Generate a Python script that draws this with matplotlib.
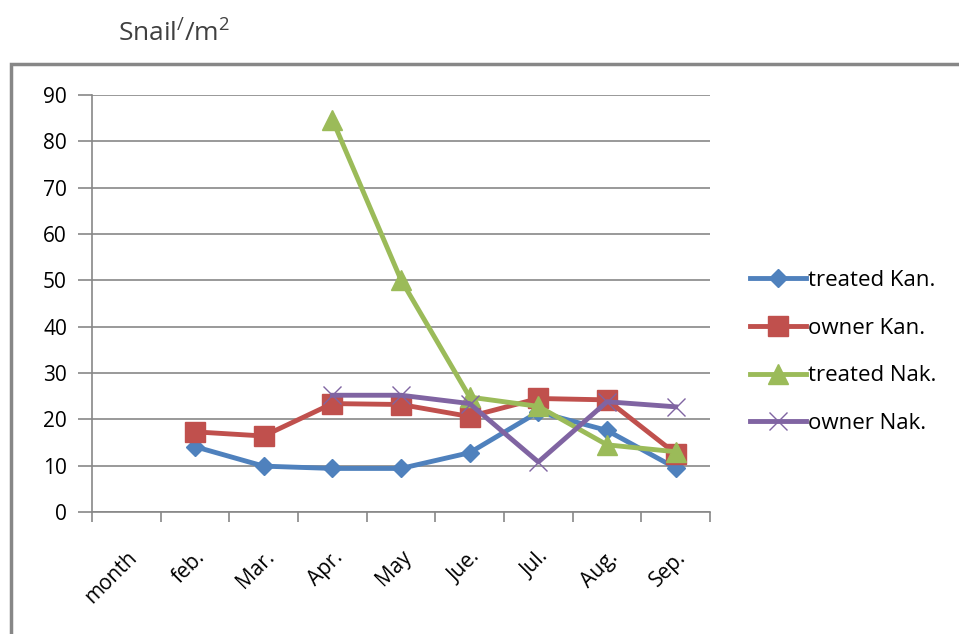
import matplotlib
matplotlib.use("Agg")
import matplotlib.pyplot as plt
from matplotlib.patches import Rectangle
import numpy as np

# %%
# data
months = ["month", "feb.", "Mar.", "Apr.", "May", "Jue.", "Jul.", "Aug.", "Sep."]
treated_kan = [np.nan, 14.1, 9.9, 9.4, 9.4, 12.8, 21.6, 17.6, 9.5]
owner_kan = [np.nan, 17.3, 16.4, 23.4, 23.2, 20.6, 24.5, 24.2, 12.6]
treated_nak = [np.nan, np.nan, np.nan, 84.7, 50.1, 24.8, 22.8, 14.5, 13.0]
owner_nak = [np.nan, np.nan, np.nan, 25.2, 25.2, 23.4, 10.8, 23.8, 22.7]
y_ticks = list(range(0, 91, 10))

# %%
W, H = 959, 634
fig = plt.figure(figsize=(W / 100, H / 100), dpi=100)
plt.rcParams["font.family"] = ["Open Sans", "DejaVu Sans"]
plt.rcParams["mathtext.default"] = "regular"

# outer chart frame (only left and top edge visible)
fig.patches.append(Rectangle((11 / W, -0.05), 1.2, 1.05 - 64 / H, transform=fig.transFigure,
                             fill=False, edgecolor="#878787", lw=2.5))

ax = fig.add_axes([92 / W, 1 - 512 / H, (710 - 92) / W, (512 - 95) / H])
x = np.arange(len(months))

ax.plot(x, treated_kan, color="#4F81BD", lw=3.5, marker="D", ms=9, label="treated Kan.")
ax.plot(x, owner_kan, color="#C0504D", lw=3.5, marker="s", ms=14, label="owner Kan.")
ax.plot(x, treated_nak, color="#9BBB59", lw=3.5, marker="^", ms=14, label="treated Nak.")
ax.plot(x, owner_nak, color="#8064A2", lw=3.5, marker="x", ms=13, mew=1,
        label="owner Nak.")

ax.set_xlim(-0.5, len(months) - 0.5)
ax.set_ylim(0, 90)
ax.set_yticks(y_ticks)
ax.set_xticks(x)
ax.set_xticklabels(months, rotation=45, ha="right", rotation_mode="anchor", fontsize=15)
ax.set_xticks(np.arange(-0.5, len(months)), minor=True)
ax.tick_params(axis="x", which="major", length=0, pad=25)
ax.tick_params(axis="x", which="minor", length=7, color="#878787", width=1.2)
ax.tick_params(axis="y", length=10, color="#878787", width=1.2, labelsize=15, pad=8)
ax.grid(axis="y", color="#878787", lw=1.2)
ax.set_axisbelow(True)
for s in ["top", "right"]:
    ax.spines[s].set_visible(False)
for s in ["left", "bottom"]:
    ax.spines[s].set_color("#878787")
    ax.spines[s].set_linewidth(1.2)

ax.legend(loc="upper left", bbox_to_anchor=(730 / W, 1 - 250 / H), bbox_transform=fig.transFigure,
          frameon=False, fontsize=16, handlelength=2.5, handletextpad=0.1, labelspacing=1.2)

fig.text(118 / W, 1 - 34 / H, r"Snail$^{/}$/m$^{2}$", fontsize=19, color="#404040", va="center")

fig.savefig("out.png", dpi=100)
